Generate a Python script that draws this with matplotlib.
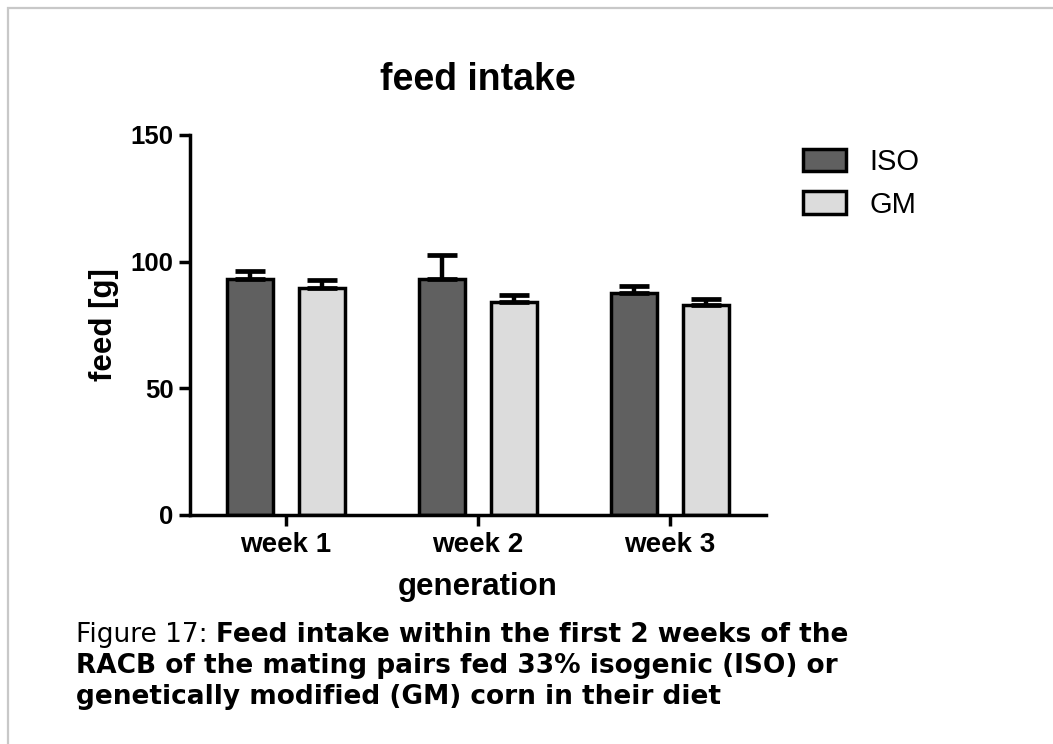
import matplotlib
matplotlib.use("Agg")
import matplotlib.pyplot as plt
import numpy as np
from matplotlib.patches import Rectangle

weeks = ["week 1", "week 2", "week 3"]
groups = ["ISO", "GM"]
iso_mean = [93.2, 93.2, 87.6]
iso_err = [3.2, 9.4, 2.6]
gm_mean = [89.6, 84.2, 82.9]
gm_err = [3.2, 2.8, 2.3]
yticks = [0, 50, 100, 150]

W, H = 1053, 744
plt.rcParams["font.family"] = ["Liberation Sans", "DejaVu Sans"]

fig = plt.figure(figsize=(W / 100, H / 100), dpi=100)
ax = fig.add_axes([190 / W, 1 - 515 / H, (766 - 190) / W, (515 - 135) / H])

x = np.arange(len(weeks))
off = 0.188
bw = 0.24
ax.bar(x - off, iso_mean, bw, color="#606060", edgecolor="black", linewidth=2.5, label=groups[0], zorder=2)
ax.bar(x + off, gm_mean, bw, color="#dcdcdc", edgecolor="black", linewidth=2.5, label=groups[1], zorder=2)
for xs, m, e in [(x - off, iso_mean, iso_err), (x + off, gm_mean, gm_err)]:
    ax.errorbar(xs, m, yerr=[np.zeros(len(e)), e], fmt="none", ecolor="black",
                elinewidth=3.2, capsize=11, capthick=3.4, zorder=3)

ax.set_xlim(-0.5, 2.5)
ax.set_ylim(0, 150)
ax.set_yticks(yticks)
ax.set_xticks(x)
ax.set_xticklabels(weeks)
for s in ["top", "right"]:
    ax.spines[s].set_visible(False)
for s in ["left", "bottom"]:
    ax.spines[s].set_linewidth(2.5)
ax.tick_params(axis="both", width=2.5, length=8, pad=4)
ax.tick_params(axis="y", labelsize=18.5)
ax.tick_params(axis="x", labelsize=20)
for t in ax.get_xticklabels() + ax.get_yticklabels():
    t.set_fontweight("bold")

ax.set_xlabel("generation", fontsize=22.5, fontweight="bold", labelpad=10)
ax.set_ylabel("feed [g]", fontsize=22.5, fontweight="bold", labelpad=8)
fig.text(478 / W, 1 - 90 / H, "feed intake", ha="center", va="baseline", fontsize=27, fontweight="bold")

ax.legend(loc="upper left", bbox_to_anchor=(803 / W, 1 - 148 / H), bbox_transform=fig.transFigure,
          frameon=False, fontsize=21, borderpad=0, borderaxespad=0, handlelength=1.48,
          handleheight=0.8, handletextpad=0.8, labelspacing=0.5)

# caption, first part normal, rest bold
cap_x = 76 / W
cap_size = 19
r = fig.canvas.get_renderer()
t0 = fig.text(cap_x, 1 - 642 / H, "Figure 17: ", fontsize=cap_size, family="DejaVu Sans", va="baseline")
w0 = t0.get_window_extent(renderer=r).width / W
fig.text(cap_x + w0, 1 - 642 / H, "Feed intake within the first 2 weeks of the", fontsize=cap_size,
         family="DejaVu Sans", fontweight="bold", va="baseline")
fig.text(cap_x, 1 - 673 / H, "RACB of the mating pairs fed 33% isogenic (ISO) or", fontsize=cap_size,
         family="DejaVu Sans", fontweight="bold", va="baseline")
fig.text(cap_x, 1 - 704 / H, "genetically modified (GM) corn in their diet", fontsize=cap_size,
         family="DejaVu Sans", fontweight="bold", va="baseline")

fig.patches.append(Rectangle((8 / W, -1), 2, 2 - 8 / H, transform=fig.transFigure,
                             fill=False, edgecolor="#c8c8c8", linewidth=1.6))

fig.savefig("out.png", dpi=100)
